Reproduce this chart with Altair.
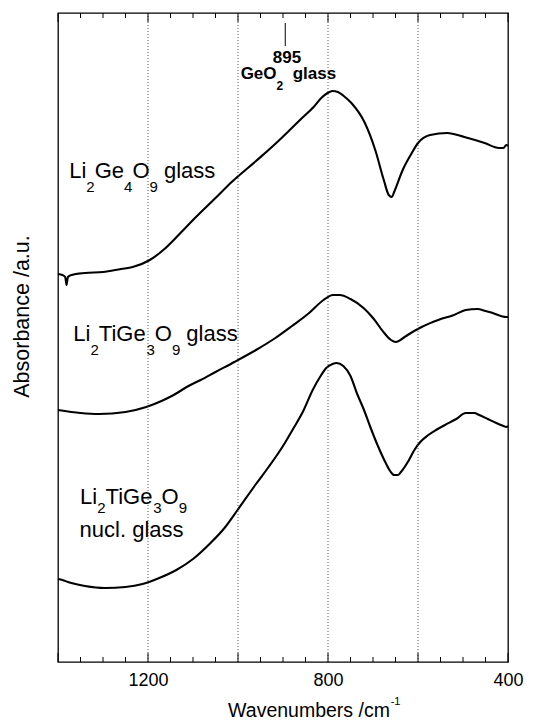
import altair as alt
import pandas as pd

# ---------------- data ----------------
c1_wn = [1400, 1390, 1384, 1381, 1378, 1370, 1340, 1300, 1260, 1234, 1196, 1166, 1130, 1100, 1050, 1014,
         960, 915, 885, 860, 832, 815, 801, 790, 778, 765, 748, 718, 695, 676, 665,
         658, 653, 634, 615, 600, 573, 535, 497, 452, 420, 410, 404, 400]
c1_a = [3.88, 3.87, 3.85, 3.77, 3.85, 3.87, 3.89, 3.90, 3.93, 3.95, 4.02, 4.12, 4.28, 4.42, 4.64, 4.80,
        5.01, 5.19, 5.32, 5.43, 5.55, 5.64, 5.69, 5.71, 5.70, 5.66, 5.59, 5.39, 5.12, 4.82, 4.67,
        4.65, 4.70, 4.92, 5.08, 5.19, 5.27, 5.29, 5.25, 5.19, 5.14, 5.14, 5.17, 5.16]

c2_wn = [1400, 1350, 1309, 1250, 1204, 1170, 1143, 1110, 1083, 1050, 1008, 960, 917, 880, 842,
         810, 789, 774, 750, 721, 700, 675, 660, 649, 636, 623, 592, 555, 520, 494,
         468, 450, 434, 404, 400]
c2_a = [2.52, 2.49, 2.48, 2.50, 2.55, 2.61, 2.67, 2.76, 2.82, 2.90, 3.00, 3.12, 3.24, 3.36, 3.49,
        3.62, 3.67, 3.67, 3.63, 3.54, 3.44, 3.29, 3.22, 3.20, 3.23, 3.27, 3.35, 3.42, 3.47, 3.52,
        3.53, 3.51, 3.49, 3.45, 3.45]

c3_wn = [1400, 1390, 1378, 1340, 1295, 1250, 1212, 1175, 1137, 1100, 1061, 1030, 1001, 960, 932,
         900, 879, 855, 834, 815, 804, 790, 781, 766, 750, 736, 720, 706, 690, 675,
         662, 653, 645, 638, 620, 608, 595, 577, 560, 540, 515, 494, 475, 464, 445,
         426, 410, 404, 400]
c3_a = [0.83, 0.82, 0.80, 0.76, 0.74, 0.75, 0.78, 0.84, 0.92, 1.03, 1.19, 1.34, 1.52, 1.78, 1.95,
        2.16, 2.32, 2.51, 2.72, 2.87, 2.94, 2.98, 2.99, 2.96, 2.86, 2.69, 2.52, 2.35, 2.17, 2.02,
        1.91, 1.87, 1.87, 1.90, 2.02, 2.12, 2.20, 2.27, 2.32, 2.37, 2.43, 2.49, 2.49, 2.47, 2.43,
        2.39, 2.36, 2.35, 2.36]

series_names = ["Li2Ge4O9 glass", "Li2TiGe3O9 glass", "Li2TiGe3O9 nucl. glass"]

tick_labels = [1200, 800, 400]
grid_wn = [1200, 1000, 800, 600]
tick_wn = list(range(400, 1401, 50))
marker_wn = 895

# label texts: (text, kind) kind 0 = normal, 1 = subscript, 2 = superscript
lab1 = [("Li", 0), ("2", 1), ("Ge", 0), ("4", 1), ("O", 0), ("9", 1), (" glass", 0)]
lab2 = [("Li", 0), ("2", 1), ("TiGe", 0), ("3", 1), ("O", 0), ("9", 1), (" glass", 0)]
lab3a = [("Li", 0), ("2", 1), ("TiGe", 0), ("3", 1), ("O", 0), ("9", 1)]
lab3b = [("nucl. glass", 0)]
ann1 = [("895", 0)]
ann2 = [("GeO", 0), ("2", 1), ("  glass", 0)]
xtitle = [("Wavenumbers /cm", 0), ("-1", 2)]

# ---------------- geometry helpers ----------------
W, H = 450, 649
X_DOM = [400, 1400]
Y_DOM = [0, 6.49]
PX_WN = W / (X_DOM[1] - X_DOM[0])
PX_A = H / (Y_DOM[1] - Y_DOM[0])

REG = {"L": 556, "i": 222, "G": 778, "e": 556, "O": 778, "T": 611, " ": 278, "g": 556,
       "l": 222, "a": 556, "s": 500, "n": 556, "u": 556, "c": 500, ".": 278, "-": 333,
       "W": 944, "v": 500, "m": 833, "b": 556, "r": 333, "/": 278}
BOLD = {"G": 778, "e": 556, "O": 778, " ": 278, "g": 611, "l": 278, "a": 556, "s": 556}
for d in "0123456789":
    REG[d] = 556
    BOLD[d] = 556


def tw(t, fs, bold):
    tab = BOLD if bold else REG
    return sum(tab.get(c, 556) for c in t) * fs / 1000.0


def build(segs, wn0, a0, main, small, shift, bold=False, center=False):
    sizes = [main if k == 0 else small for _, k in segs]
    total = sum(tw(t, s, bold) for (t, _), s in zip(segs, sizes))
    off = -total / 2 if center else 0.0
    rows = []
    for (t, k), s in zip(segs, sizes):
        lead = len(t) - len(t.lstrip(" "))
        off += tw(" " * lead, s, bold)
        body = t.lstrip(" ")
        dy = 0 if k == 0 else (shift if k == 1 else -shift)
        rows.append({"wn": wn0 - off / PX_WN, "a": a0 - dy / PX_A, "txt": body, "fs": s})
        off += tw(body, s, bold)
    return rows


reg_rows = (build(lab1, 1375, 4.84, 22, 15, 14)
            + build(lab2, 1366, 3.21, 22, 15, 14)
            + build(lab3a, 1351, 1.58, 22, 15, 9)
            + build(lab3b, 1352, 1.25, 22, 15, 9)
            + build(xtitle, 1022, -0.547, 19.5, 11, 11.7))
bold_rows = (build(ann1, 891, 5.99, 17, 12, 11, bold=True, center=True)
             + build(ann2, 888, 5.83, 17, 12, 11, bold=True, center=True))

# ---------------- data frames ----------------
curves = pd.concat([
    pd.DataFrame({"wn": c1_wn, "a": c1_a, "s": series_names[0]}),
    pd.DataFrame({"wn": c2_wn, "a": c2_a, "s": series_names[1]}),
    pd.DataFrame({"wn": c3_wn, "a": c3_a, "s": series_names[2]}),
])
grid_df = pd.DataFrame({"wn": grid_wn})
tlen = [9 if w % 200 == 0 else 5 for w in tick_wn]
ticks_df = pd.concat([
    pd.DataFrame({"wn": tick_wn, "a": [Y_DOM[0]] * len(tick_wn),
                  "a2": [Y_DOM[0] + l / PX_A for l in tlen]}),
    pd.DataFrame({"wn": tick_wn, "a": [Y_DOM[1]] * len(tick_wn),
                  "a2": [Y_DOM[1] - l / PX_A for l in tlen]}),
])
marker_df = pd.DataFrame({"wn": [marker_wn], "a": [6.16], "a2": [6.39]})
reg_df = pd.DataFrame(reg_rows)
bold_df = pd.DataFrame(bold_rows)

FONT = "Liberation Sans"

xs = alt.Scale(domain=X_DOM, reverse=True, nice=False, zero=False)
ys = alt.Scale(domain=Y_DOM, nice=False, zero=False)

X = alt.X("wn:Q", scale=xs, title=None,
          axis=alt.Axis(values=tick_labels, format="d", ticks=False, domain=False, grid=False,
                        labelFont=FONT, labelFontSize=18, labelColor="black",
                        labelPadding=9, labelFlush=False, labelOverlap=False, title=None))
Y = alt.Y("a:Q", scale=ys,
          axis=alt.Axis(labels=False, ticks=False, domain=False, grid=False,
                        title="Absorbance /a.u.", titleFont=FONT, titleFontSize=21.5,
                        titleFontWeight="normal", titleColor="black", titleAngle=270,
                        titleX=-36, titleY=303, titleAlign="center", titleBaseline="middle"))

grid = alt.Chart(grid_df).mark_rule(color="#444", strokeWidth=0.9, strokeDash=[1, 2]).encode(
    x=X, y=alt.value(0), y2=alt.value(H))
ticks = alt.Chart(ticks_df).mark_rule(color="black", strokeWidth=1).encode(
    x=X, y=Y, y2=alt.Y2("a2:Q"))
lines = alt.Chart(curves).mark_line(color="black", strokeWidth=2.1, strokeJoin="round",
                                    interpolate="monotone").encode(
    x=X, y=Y, detail="s:N")
marker = alt.Chart(marker_df).mark_rule(color="black", strokeWidth=1).encode(
    x=X, y=Y, y2=alt.Y2("a2:Q"))
txt_reg = alt.Chart(reg_df).mark_text(align="left", baseline="alphabetic", font=FONT,
                                      color="black").encode(
    x=X, y=Y, text="txt:N", size=alt.Size("fs:Q", scale=None, legend=None))
txt_bold = alt.Chart(bold_df).mark_text(align="left", baseline="alphabetic", font=FONT,
                                        fontWeight="bold", color="black").encode(
    x=X, y=Y, text="txt:N", size=alt.Size("fs:Q", scale=None, legend=None))

chart = alt.layer(lines, grid, ticks, marker, txt_reg, txt_bold).properties(
    width=W, height=H,
    autosize=alt.AutoSizeParams(type="none"),
    padding={"left": 58, "top": 13, "right": 25, "bottom": 58},
    background="white",
).configure_view(stroke="black", strokeWidth=1.3)

chart.save("out.html", embed_options={"renderer": "svg", "actions": False})
